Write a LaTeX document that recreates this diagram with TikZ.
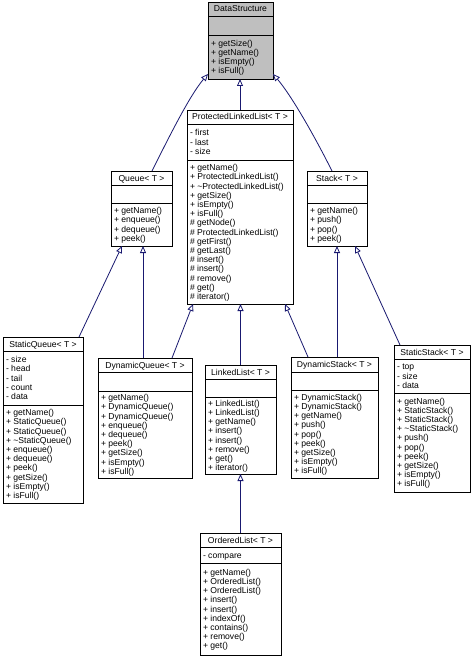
\documentclass[tikz,border=0pt]{standalone}
\usepackage{fontspec}
\setmainfont{Liberation Sans}
\usetikzlibrary{arrows.meta,fit}
\definecolor{edgeblue}{RGB}{25,25,112}
\definecolor{dsgray}{RGB}{191,191,191}
\tikzset{
  cls/.style={draw=black, line width=0.8pt, inner sep=0pt, outer sep=0pt, fill=white},
  sepline/.style={draw=black, line width=0.8pt},
  txt/.style={font=\fontsize{8.6}{9.2}\selectfont, inner sep=0pt, outer sep=0pt, text=black},
  inh/.style={draw=edgeblue, line width=0.8pt, -{Triangle[fill=white, length=7pt, width=6pt]}},
}
% name, x1, y1, x2, y2, s1, s2, title, extra style
\newcommand\cbox[9]{%
  \node[cls, #9, fit={(#2,#3) (#4,#5)}] (#1) {};
  \draw[sepline] (#2,#6) -- (#4,#6);
  \draw[sepline] (#2,#7) -- (#4,#7);
  \node[txt, anchor=base] (#1t) at ({(#2+#4)/2}, {(#3+#6)/2+3}) {#8};
}
% prefix, x1, a, b, n, list
\newcommand\clines[6]{%
  \foreach \itm [count=\idx] in {#6} {
    \node[txt, anchor=base west] (#1\idx) at ({#2+3}, {(#3+#4)/2-(#5-1)*4.6+3+(\idx-1)*9.2}) {\itm};
  }
}
\begin{document}
\begin{tikzpicture}[x=1pt,y=-1pt]
\fill[white] (0,0) rectangle (474,658);
\useasboundingbox (0,0) rectangle (474,658);

% DataStructure
\cbox{ds}{208}{2}{273}{79}{16}{35}{DataStructure}{fill=dsgray}
\clines{dsm}{208}{35}{79}{4}{+ getSize(), + getName(), + isEmpty(), + isFull()}

% ProtectedLinkedList
\cbox{pll}{187}{110}{293}{304}{124}{160}{ProtectedLinkedList< T >}{}
\clines{plla}{187}{124}{160}{3}{- first, - last, - size}
\clines{pllm}{187}{160}{304}{15}{+ getName(), + ProtectedLinkedList(), + \textasciitilde ProtectedLinkedList(), + getSize(), + isEmpty(), + isFull(), \# getNode(), \# ProtectedLinkedList(), \# getFirst(), \# getLast(), \# insert(), \# insert(), \# remove(), \# get(), \# iterator()}

% Queue
\cbox{queue}{111}{171}{172}{246}{185}{203}{Queue< T >}{}
\clines{queuem}{111}{203}{246}{4}{+ getName(), + enqueue(), + dequeue(), + peek()}

% Stack
\cbox{stack}{307}{171}{367}{246}{185}{203}{Stack< T >}{}
\clines{stackm}{307}{203}{246}{4}{+ getName(), + push(), + pop(), + peek()}

% StaticQueue
\cbox{sq}{3}{337}{83}{503}{351}{405}{StaticQueue< T >}{}
\clines{sqa}{3}{351}{405}{5}{- size, - head, - tail, - count, - data}
\clines{sqm}{3}{405}{503}{10}{+ getName(), + StaticQueue(), + StaticQueue(), + \textasciitilde StaticQueue(), + enqueue(), + dequeue(), + peek(), + getSize(), + isEmpty(), + isFull()}

% DynamicQueue
\cbox{dq}{98}{358}{192}{478}{372}{391}{DynamicQueue< T >}{}
\clines{dqm}{98}{391}{478}{9}{+ getName(), + DynamicQueue(), + DynamicQueue(), + enqueue(), + dequeue(), + peek(), + getSize(), + isEmpty(), + isFull()}

% LinkedList
\cbox{ll}{205}{365}{276}{474}{379}{397}{LinkedList< T >}{}
\clines{llm}{205}{397}{474}{8}{+ LinkedList(), + LinkedList(), + getName(), + insert(), + insert(), + remove(), + get(), + iterator()}

% DynamicStack
\cbox{dst}{291}{357}{378}{478}{372}{390}{DynamicStack< T >}{}
\clines{dstm}{291}{390}{478}{9}{+ DynamicStack(), + DynamicStack(), + getName(), + push(), + pop(), + peek(), + getSize(), + isEmpty(), + isFull()}

% StaticStack
\cbox{sst}{394}{345}{470}{492}{359}{393}{StaticStack< T >}{}
\clines{ssta}{394}{359}{393}{3}{- top, - size, - data}
\clines{sstm}{394}{393}{492}{10}{+ getName(), + StaticStack(), + StaticStack(), + \textasciitilde StaticStack(), + push(), + pop(), + peek(), + getSize(), + isEmpty(), + isFull()}

% OrderedList
\cbox{ol}{200}{533}{281}{655}{547}{563}{OrderedList< T >}{}
\clines{ola}{200}{547}{563}{1}{- compare}
\clines{olm}{200}{563}{655}{9}{+ getName(), + OrderedList(), + OrderedList(), + insert(), + insert(), + indexOf(), + contains(), + remove(), + get()}

% inheritance connectors
\draw[inh] ([xshift=41pt]queue.north west) .. controls +(18,-36) and +(-18,21) .. ([yshift=5pt]ds.south west);
\draw[inh] ([xshift=25pt]stack.north west) .. controls +(-18,-36) and +(18,21) .. ([yshift=5pt]ds.south east);
\draw[inh] (pll.north) -- (pll.north |- ds.south);
\draw[inh] ([xshift=-4pt]sq.north east) -- ([xshift=11pt]queue.south west);
\draw[inh] ([xshift=45pt]dq.north west) -- ([xshift=45pt]dq.north west |- queue.south);
\draw[inh] ([xshift=74pt]dq.north west) -- ([xshift=6pt]pll.south west);
\draw[inh] (ll.north) -- (ll.north |- pll.south);
\draw[inh] ([xshift=17pt]dst.north west) -- ([xshift=-8pt]pll.south east);
\draw[inh] ([xshift=46pt]dst.north west) -- ([xshift=46pt]dst.north west |- stack.south);
\draw[inh] ([xshift=6pt]sst.north west) -- ([xshift=48pt]stack.south west);
\draw[inh] (ol.north) -- (ol.north |- ll.south);
\end{tikzpicture}
\end{document}
